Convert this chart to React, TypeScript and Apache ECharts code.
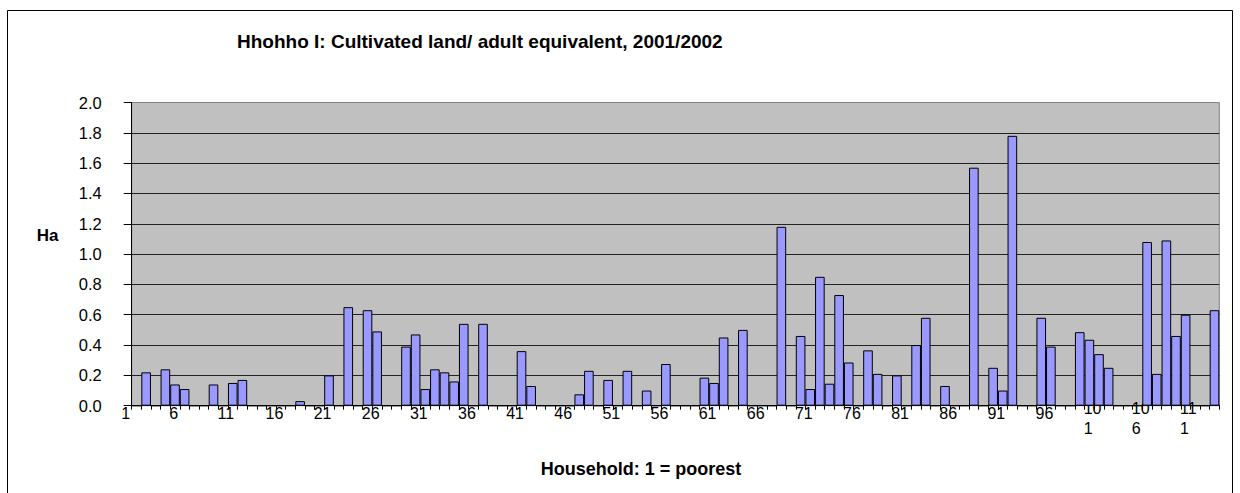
import { useEffect, useRef } from "react";
import * as echarts from "echarts";

// Households ranked from poorest (1) to richest
const households: string[] = Array.from({ length: 113 }, (_, i) => String(i + 1));

// Cultivated land per adult equivalent (ha), one value per household
const landPerAdultEq: number[] = [
  0, 0.22, 0, 0.24, 0.14, 0.11, 0, 0, 0.14, 0,
  0.15, 0.17, 0, 0, 0, 0, 0, 0.03, 0, 0,
  0.2, 0, 0.65, 0, 0.63, 0.49, 0, 0, 0.39, 0.47,
  0.11, 0.24, 0.22, 0.16, 0.54, 0, 0.54, 0, 0, 0,
  0.36, 0.13, 0, 0, 0, 0, 0.075, 0.23, 0, 0.17,
  0, 0.23, 0, 0.1, 0, 0.275, 0, 0, 0, 0.185,
  0.15, 0.45, 0, 0.5, 0, 0, 0, 1.18, 0, 0.46,
  0.11, 0.85, 0.145, 0.73, 0.285, 0, 0.365, 0.21, 0, 0.2,
  0, 0.4, 0.58, 0, 0.13, 0, 0, 1.57, 0, 0.25,
  0.1, 1.78, 0, 0, 0.58, 0.39, 0, 0, 0.485, 0.435,
  0.34, 0.25, 0, 0, 0, 1.08, 0.21, 1.09, 0.46, 0.6,
  0, 0, 0.63,
];

const chartTitle = "Hhohho I: Cultivated land/ adult equivalent, 2001/2002";
const yAxisTitle = "Ha";
const xAxisTitle = "Household: 1 = poorest";

const FONT = "'Liberation Sans', Arial, sans-serif";

// Category labels sit in a fixed-width box, text flush left, so that the
// digits start a little to the left of each category centre.
const LABEL_BOX = 30.6;

export default function App() {
  const ref = useRef<HTMLDivElement>(null);

  useEffect(() => {
    if (!ref.current) return;
    const chart = echarts.init(ref.current, null, {
      renderer: "svg",
      width: 1240,
      height: 493,
    });

    const labelToken = {
      fontFamily: FONT,
      fontSize: 16,
      lineHeight: 20,
      color: "#000",
      width: LABEL_BOX,
      align: "left",
    };

    const option = {
      animation: false,
      backgroundColor: "#ffffff",
      textStyle: { fontFamily: FONT },
      title: {
        text: chartTitle,
        left: 237,
        top: 32,
        padding: 0,
        textStyle: {
          fontFamily: FONT,
          fontSize: 19,
          fontWeight: "bold",
          color: "#000",
        },
      },
      grid: {
        left: 131.7,
        right: 20.7,
        top: 102.5,
        bottom: 87.3,
        show: true,
        backgroundColor: "#C0C0C0",
        borderColor: "#808080",
        borderWidth: 1,
      },
      xAxis: {
        type: "category",
        data: households,
        boundaryGap: true,
        axisLine: { show: true, lineStyle: { color: "#000", width: 1 } },
        axisTick: {
          show: true,
          interval: 0,
          length: 4,
          lineStyle: { color: "#000", width: 1 },
        },
        axisLabel: {
          interval: (i: number) => i % 5 === 0,
          margin: -7,
          color: "#000",
          formatter: (v: string) =>
            v.length > 2
              ? `{w|${v.slice(0, 2)}}\n{w|${v.slice(2)}}`
              : `{n|${v}}`,
          rich: {
            n: { ...labelToken, padding: [9, 0, 0, 0] },
            w: { ...labelToken },
          },
        },
        splitLine: { show: false },
      },
      yAxis: {
        type: "value",
        min: 0,
        max: 2,
        interval: 0.2,
        axisLine: { show: true, lineStyle: { color: "#000", width: 1 } },
        axisTick: {
          show: true,
          length: 8,
          lineStyle: { color: "#000", width: 1 },
        },
        axisLabel: {
          margin: 30,
          fontFamily: FONT,
          fontSize: 16.5,
          color: "#000",
          formatter: (v: number) => v.toFixed(1),
        },
        splitLine: {
          show: true,
          showMaxLine: false,
          lineStyle: { color: "#222", width: 1 },
        },
      },
      series: [
        {
          type: "bar",
          data: landPerAdultEq,
          barWidth: "100%",
          itemStyle: {
            color: "#9999FF",
            borderColor: "#000",
            borderWidth: 1,
          },
        },
      ],
      graphic: [
        {
          type: "rect",
          silent: true,
          shape: { x: 7.5, y: 10.5, width: 1225, height: 520 },
          style: { fill: "none", stroke: "#000", lineWidth: 1 },
          z: 100,
        },
        {
          type: "text",
          x: 47.5,
          y: 235,
          style: {
            text: yAxisTitle,
            fontFamily: FONT,
            fontSize: 17,
            fontWeight: "bold",
            fill: "#000",
            textAlign: "center",
            textVerticalAlign: "middle",
          },
        },
        {
          type: "text",
          x: 641,
          y: 469,
          style: {
            text: xAxisTitle,
            fontFamily: FONT,
            fontSize: 18,
            fontWeight: "bold",
            fill: "#000",
            textAlign: "center",
            textVerticalAlign: "middle",
          },
        },
      ],
    };

    chart.setOption(option);
    return () => chart.dispose();
  }, []);

  return (
    <div
      ref={ref}
      style={{
        position: "fixed",
        left: 0,
        top: 0,
        width: 1240,
        height: 493,
        background: "#fff",
      }}
    />
  );
}
